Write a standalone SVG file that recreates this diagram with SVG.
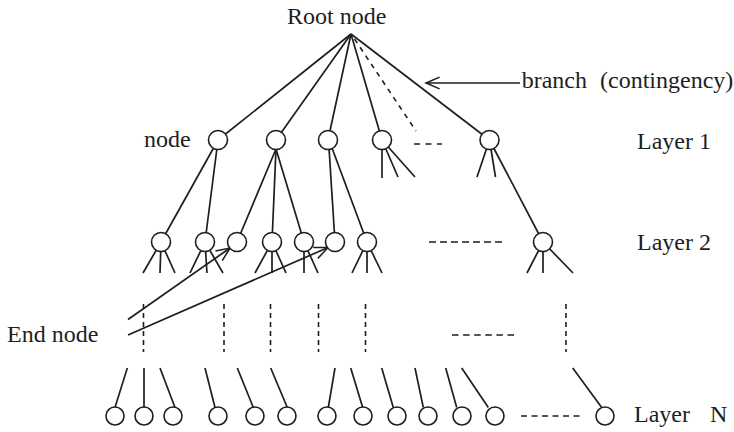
<svg xmlns="http://www.w3.org/2000/svg" width="734" height="432" viewBox="0 0 734 432">
<style>
.ln{stroke:#1e1e1e;stroke-width:1.7;fill:none;stroke-linecap:butt}
.dsh{stroke:#1e1e1e;stroke-width:1.6;fill:none}
.nd{fill:#fff;stroke:#1e1e1e;stroke-width:1.6}
.t{font-family:"Liberation Serif","Times New Roman",serif;font-size:24px;fill:#1e1e1e}
</style>
<defs>
<marker id="oa" markerUnits="userSpaceOnUse" markerWidth="20" markerHeight="20" refX="0" refY="0" orient="auto" overflow="visible" viewBox="-20 -10 22 20">
<path d="M-15,-6.5 L0,0 L-15,6.5" fill="none" stroke="#1e1e1e" stroke-width="1.7"/>
</marker>
</defs>
<rect width="734" height="432" fill="#fff"/>
<g id="connectors">
<line class="ln" x1="351" y1="34" x2="218" y2="140"/>
<line class="ln" x1="351" y1="34" x2="276" y2="140"/>
<line class="ln" x1="351" y1="34" x2="328" y2="140"/>
<line class="ln" x1="351" y1="34" x2="382" y2="140"/>
<line class="ln" x1="351" y1="34" x2="489.5" y2="140"/>
<line class="dsh" x1="354.5" y1="39" x2="416" y2="131" stroke-dasharray="5 5"/>
<line class="dsh" x1="414" y1="144" x2="442" y2="144" stroke-dasharray="6 5.5"/>
<line class="ln" x1="520" y1="83" x2="426" y2="83" marker-end="url(#oa)"/>
<line class="ln" x1="218" y1="140" x2="161" y2="242"/>
<line class="ln" x1="218" y1="140" x2="205" y2="242"/>
<line class="ln" x1="276" y1="149" x2="237" y2="242"/>
<line class="ln" x1="276" y1="149" x2="272" y2="242"/>
<line class="ln" x1="276" y1="149" x2="304" y2="242"/>
<line class="ln" x1="329" y1="148" x2="335" y2="242"/>
<line class="ln" x1="332" y1="148" x2="367" y2="242"/>
<line class="ln" x1="382" y1="140" x2="382" y2="178"/>
<line class="ln" x1="382" y1="140" x2="398" y2="177"/>
<line class="ln" x1="382" y1="140" x2="415" y2="177"/>
<line class="ln" x1="489.5" y1="140" x2="477" y2="177"/>
<line class="ln" x1="489.5" y1="140" x2="495.5" y2="177"/>
<line class="ln" x1="489.5" y1="140" x2="543" y2="242"/>
<line class="ln" x1="161" y1="242" x2="143" y2="273"/>
<line class="ln" x1="161" y1="242" x2="160" y2="273"/>
<line class="ln" x1="161" y1="242" x2="175" y2="273"/>
<line class="ln" x1="205" y1="242" x2="190" y2="273"/>
<line class="ln" x1="205" y1="242" x2="207" y2="273"/>
<line class="ln" x1="205" y1="242" x2="223" y2="273"/>
<line class="ln" x1="272" y1="242" x2="255" y2="273"/>
<line class="ln" x1="272" y1="242" x2="272" y2="273"/>
<line class="ln" x1="272" y1="242" x2="286" y2="273"/>
<line class="ln" x1="304" y1="242" x2="304" y2="273"/>
<line class="ln" x1="304" y1="242" x2="318" y2="273"/>
<line class="ln" x1="367" y1="242" x2="352" y2="273"/>
<line class="ln" x1="367" y1="242" x2="367" y2="273"/>
<line class="ln" x1="367" y1="242" x2="382" y2="273"/>
<line class="ln" x1="543" y1="242" x2="527" y2="273"/>
<line class="ln" x1="543" y1="242" x2="543" y2="273"/>
<line class="ln" x1="543" y1="242" x2="573" y2="273"/>
<line class="dsh" x1="429" y1="242" x2="503" y2="242" stroke-dasharray="7 4"/>
<line class="ln" x1="128" y1="319.5" x2="230" y2="248" marker-end="url(#oa)"/>
<line class="ln" x1="128" y1="335" x2="328" y2="247.5" marker-end="url(#oa)"/>
<line class="dsh" x1="143.5" y1="304" x2="143.5" y2="352" stroke-dasharray="5 4"/>
<line class="dsh" x1="224" y1="304" x2="224" y2="352" stroke-dasharray="5 4"/>
<line class="dsh" x1="270.5" y1="304" x2="270.5" y2="352" stroke-dasharray="5 4"/>
<line class="dsh" x1="318.5" y1="304" x2="318.5" y2="352" stroke-dasharray="5 4"/>
<line class="dsh" x1="365.5" y1="304" x2="365.5" y2="352" stroke-dasharray="5 4"/>
<line class="dsh" x1="566" y1="304" x2="566" y2="352" stroke-dasharray="5 4"/>
<line class="dsh" x1="452" y1="335" x2="515" y2="335" stroke-dasharray="6.5 4.6"/>
<line class="dsh" x1="521" y1="416" x2="583" y2="416" stroke-dasharray="6 4.5"/>
<line class="ln" x1="127.3" y1="368" x2="115" y2="407.5"/>
<line class="ln" x1="144" y1="368" x2="144" y2="407.5"/>
<line class="ln" x1="160" y1="368" x2="175" y2="407.5"/>
<line class="ln" x1="205" y1="368" x2="215" y2="407.5"/>
<line class="ln" x1="237.3" y1="368" x2="253.3" y2="407.5"/>
<line class="ln" x1="270.7" y1="368" x2="287.3" y2="407.5"/>
<line class="ln" x1="335" y1="368" x2="328.3" y2="407.5"/>
<line class="ln" x1="350.7" y1="368" x2="362.7" y2="407.5"/>
<line class="ln" x1="381.7" y1="368" x2="393.3" y2="407.5"/>
<line class="ln" x1="415" y1="368" x2="423.3" y2="407.5"/>
<line class="ln" x1="445.7" y1="368" x2="456.7" y2="407.5"/>
<line class="ln" x1="461.7" y1="368" x2="488.3" y2="407.5"/>
<line class="ln" x1="572.7" y1="368" x2="601.7" y2="407.5"/>
</g>
<g id="root"><text class="t" x="287" y="24">Root node</text></g>
<g id="n1-1"><circle class="nd" cx="218" cy="140" r="9.5"/></g>
<g id="n1-2"><circle class="nd" cx="276" cy="140" r="9.5"/></g>
<g id="n1-3"><circle class="nd" cx="328" cy="140" r="9.5"/></g>
<g id="n1-4"><circle class="nd" cx="382" cy="140" r="9.5"/></g>
<g id="n1-5"><circle class="nd" cx="489.5" cy="140" r="9.5"/></g>
<g id="n2-1"><circle class="nd" cx="161" cy="242" r="9.5"/></g>
<g id="n2-2"><circle class="nd" cx="205" cy="242" r="9.5"/></g>
<g id="n2-3"><circle class="nd" cx="237" cy="242" r="9.5"/></g>
<g id="n2-4"><circle class="nd" cx="272" cy="242" r="9.5"/></g>
<g id="n2-5"><circle class="nd" cx="304" cy="242" r="9.5"/></g>
<g id="n2-6"><circle class="nd" cx="335" cy="242" r="9.5"/></g>
<g id="n2-7"><circle class="nd" cx="367" cy="242" r="9.5"/></g>
<g id="n2-8"><circle class="nd" cx="543" cy="242" r="9.5"/></g>
<g id="nN-1"><circle class="nd" cx="115" cy="416" r="9"/></g>
<g id="nN-2"><circle class="nd" cx="144" cy="416" r="9"/></g>
<g id="nN-3"><circle class="nd" cx="173" cy="416" r="9"/></g>
<g id="nN-4"><circle class="nd" cx="218" cy="416" r="9"/></g>
<g id="nN-5"><circle class="nd" cx="255" cy="416" r="9"/></g>
<g id="nN-6"><circle class="nd" cx="287" cy="416" r="9"/></g>
<g id="nN-7"><circle class="nd" cx="327" cy="416" r="9"/></g>
<g id="nN-8"><circle class="nd" cx="363" cy="416" r="9"/></g>
<g id="nN-9"><circle class="nd" cx="397" cy="416" r="9"/></g>
<g id="nN-10"><circle class="nd" cx="428" cy="416" r="9"/></g>
<g id="nN-11"><circle class="nd" cx="462" cy="416" r="9"/></g>
<g id="nN-12"><circle class="nd" cx="495" cy="416" r="9"/></g>
<g id="nN-13"><circle class="nd" cx="605" cy="416" r="9"/></g>
<g id="labels">
<text class="t" x="144" y="147">node</text>
<text class="t" x="521.7" y="88">branch<tspan x="600">(contingency)</tspan></text>
<text class="t" x="637" y="149">Layer 1</text>
<text class="t" x="637" y="250">Layer 2</text>
<text class="t" x="7" y="342">End node</text>
<text class="t" x="634" y="422">Layer<tspan x="710">N</tspan></text>
</g>
</svg>
